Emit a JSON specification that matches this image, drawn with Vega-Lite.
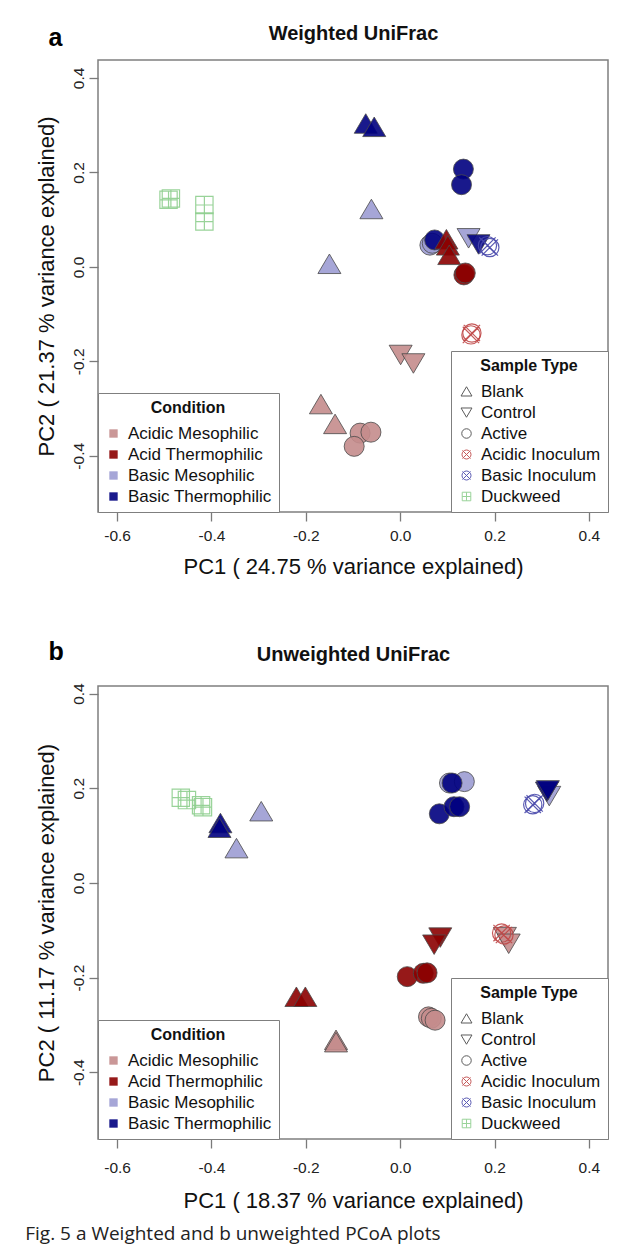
{
  "$schema": "https://vega.github.io/schema/vega-lite/v6.json",
  "padding": {"left": 25, "top": 22, "right": 4, "bottom": 4},
  "background": "white",
  "config": {
    "font": "Liberation Sans",
    "view": {"stroke": "#7f7f7f", "strokeWidth": 1.5},
    "axis": {"domain": false, "grid": false, "tickColor": "#7a7a7a", "tickSize": 9, "tickWidth": 1.3, "labelFont": "Liberation Sans", "labelFontSize": 15.5, "labelColor": "#222222", "titleFont": "Liberation Sans", "titleFontSize": 22, "titleFontWeight": "normal", "titleColor": "#111111"},
    "legend": {"labelFont": "Liberation Sans", "labelFontSize": 17, "labelColor": "#111111", "titleFont": "Liberation Sans", "titleFontSize": 16, "titleFontWeight": "bold", "titleColor": "#111111", "titleAnchor": "middle", "strokeColor": "#7f7f7f", "fillColor": "white", "padding": 7, "offset": 0, "rowPadding": 3, "titlePadding": 9, "labelOffset": 6},
    "title": {"font": "Liberation Sans", "color": "#111111"}
  },
  "title": {"text": "Fig. 5  a Weighted and b unweighted PCoA plots", "orient": "bottom", "anchor": "start", "frame": "bounds", "font": "Open Sans", "fontSize": 19, "fontWeight": "normal", "color": "#222222", "offset": 13, "dx": -9},
  "resolve": {"scale": {"x": "independent", "y": "independent", "fill": "independent", "shape": "independent", "stroke": "independent"}, "legend": {"fill": "independent", "shape": "independent", "stroke": "independent"}},
  "spacing": 59,
  "datasets": {
    "pa": [
      {"cond": "Basic Thermophilic", "type": "Blank", "pc1": -0.073, "pc2": 0.303},
      {"cond": "Basic Thermophilic", "type": "Blank", "pc1": -0.055, "pc2": 0.296},
      {"cond": "Basic Mesophilic", "type": "Blank", "pc1": -0.061, "pc2": 0.122},
      {"cond": "Basic Mesophilic", "type": "Blank", "pc1": -0.150, "pc2": 0.006},
      {"cond": "Acidic Mesophilic", "type": "Blank", "pc1": -0.168, "pc2": -0.291},
      {"cond": "Acidic Mesophilic", "type": "Blank", "pc1": -0.138, "pc2": -0.333},
      {"cond": "Acidic Mesophilic", "type": "Control", "pc1": 0.001, "pc2": -0.186},
      {"cond": "Acidic Mesophilic", "type": "Control", "pc1": 0.028, "pc2": -0.204},
      {"cond": "Acidic Mesophilic", "type": "Active", "pc1": -0.085, "pc2": -0.352},
      {"cond": "Acidic Mesophilic", "type": "Active", "pc1": -0.062, "pc2": -0.350},
      {"cond": "Acidic Mesophilic", "type": "Active", "pc1": -0.0975, "pc2": -0.380},
      {"cond": "Basic Thermophilic", "type": "Active", "pc1": 0.134, "pc2": 0.207},
      {"cond": "Basic Thermophilic", "type": "Active", "pc1": 0.130, "pc2": 0.174},
      {"cond": "Basic Mesophilic", "type": "Active", "pc1": 0.063, "pc2": 0.046},
      {"cond": "Basic Mesophilic", "type": "Active", "pc1": 0.068, "pc2": 0.050},
      {"cond": "Basic Thermophilic", "type": "Active", "pc1": 0.073, "pc2": 0.057},
      {"cond": "Acid Thermophilic", "type": "Active", "pc1": 0.135, "pc2": -0.017},
      {"cond": "Acid Thermophilic", "type": "Active", "pc1": 0.138, "pc2": -0.013},
      {"cond": "Acid Thermophilic", "type": "Blank", "pc1": 0.098, "pc2": 0.058},
      {"cond": "Acid Thermophilic", "type": "Blank", "pc1": 0.101, "pc2": 0.045},
      {"cond": "Acid Thermophilic", "type": "Blank", "pc1": 0.104, "pc2": 0.025},
      {"cond": "Basic Mesophilic", "type": "Control", "pc1": 0.145, "pc2": 0.061},
      {"cond": "Basic Thermophilic", "type": "Control", "pc1": 0.166, "pc2": 0.048},
      {"cond": null, "type": "Acidic Inoculum", "pc1": 0.150, "pc2": -0.144},
      {"cond": null, "type": "Acidic Inoculum", "pc1": 0.152, "pc2": -0.140},
      {"cond": null, "type": "Basic Inoculum", "pc1": 0.185, "pc2": 0.045},
      {"cond": null, "type": "Basic Inoculum", "pc1": 0.190, "pc2": 0.041},
      {"cond": null, "type": "Duckweed", "pc1": -0.491, "pc2": 0.142},
      {"cond": null, "type": "Duckweed", "pc1": -0.486, "pc2": 0.145},
      {"cond": null, "type": "Duckweed", "pc1": -0.415, "pc2": 0.131},
      {"cond": null, "type": "Duckweed", "pc1": -0.415, "pc2": 0.096}
    ],
    "pb": [
      {"cond": "Basic Thermophilic", "type": "Blank", "pc1": -0.381, "pc2": 0.126},
      {"cond": "Basic Thermophilic", "type": "Blank", "pc1": -0.383, "pc2": 0.116},
      {"cond": "Basic Mesophilic", "type": "Blank", "pc1": -0.2945, "pc2": 0.151},
      {"cond": "Basic Mesophilic", "type": "Blank", "pc1": -0.347, "pc2": 0.073},
      {"cond": "Acid Thermophilic", "type": "Blank", "pc1": -0.220, "pc2": -0.241},
      {"cond": "Acid Thermophilic", "type": "Blank", "pc1": -0.201, "pc2": -0.241},
      {"cond": "Acidic Mesophilic", "type": "Blank", "pc1": -0.136, "pc2": -0.332},
      {"cond": "Acidic Mesophilic", "type": "Blank", "pc1": -0.136, "pc2": -0.337},
      {"cond": "Basic Mesophilic", "type": "Control", "pc1": 0.316, "pc2": 0.184},
      {"cond": "Basic Thermophilic", "type": "Control", "pc1": 0.311, "pc2": 0.193},
      {"cond": "Basic Thermophilic", "type": "Control", "pc1": 0.313, "pc2": 0.196},
      {"cond": "Acid Thermophilic", "type": "Control", "pc1": 0.085, "pc2": -0.115},
      {"cond": "Acid Thermophilic", "type": "Control", "pc1": 0.072, "pc2": -0.130},
      {"cond": "Acidic Mesophilic", "type": "Control", "pc1": 0.222, "pc2": -0.114},
      {"cond": "Acidic Mesophilic", "type": "Control", "pc1": 0.230, "pc2": -0.128},
      {"cond": "Basic Mesophilic", "type": "Active", "pc1": 0.1045, "pc2": 0.211},
      {"cond": "Basic Mesophilic", "type": "Active", "pc1": 0.136, "pc2": 0.214},
      {"cond": "Basic Thermophilic", "type": "Active", "pc1": 0.110, "pc2": 0.211},
      {"cond": "Basic Thermophilic", "type": "Active", "pc1": 0.083, "pc2": 0.146},
      {"cond": "Basic Thermophilic", "type": "Active", "pc1": 0.114, "pc2": 0.161},
      {"cond": "Basic Thermophilic", "type": "Active", "pc1": 0.126, "pc2": 0.161},
      {"cond": "Acid Thermophilic", "type": "Active", "pc1": 0.015, "pc2": -0.198},
      {"cond": "Acid Thermophilic", "type": "Active", "pc1": 0.049, "pc2": -0.191},
      {"cond": "Acid Thermophilic", "type": "Active", "pc1": 0.057, "pc2": -0.190},
      {"cond": "Acidic Mesophilic", "type": "Active", "pc1": 0.060, "pc2": -0.283},
      {"cond": "Acidic Mesophilic", "type": "Active", "pc1": 0.066, "pc2": -0.286},
      {"cond": "Acidic Mesophilic", "type": "Active", "pc1": 0.074, "pc2": -0.290},
      {"cond": null, "type": "Acidic Inoculum", "pc1": 0.215, "pc2": -0.106},
      {"cond": null, "type": "Acidic Inoculum", "pc1": 0.220, "pc2": -0.110},
      {"cond": null, "type": "Basic Inoculum", "pc1": 0.281, "pc2": 0.165},
      {"cond": null, "type": "Basic Inoculum", "pc1": 0.285, "pc2": 0.168},
      {"cond": null, "type": "Duckweed", "pc1": -0.465, "pc2": 0.180},
      {"cond": null, "type": "Duckweed", "pc1": -0.452, "pc2": 0.175},
      {"cond": null, "type": "Duckweed", "pc1": -0.422, "pc2": 0.164},
      {"cond": null, "type": "Duckweed", "pc1": -0.418, "pc2": 0.160}
    ]
  },
  "vconcat": [
    {
      "width": 510,
      "height": 452,
      "data": {"name": "pa"},
      "resolve": {"axis": {"x": "independent", "y": "independent"}},
      "encoding": {
        "shape": {"field": "type", "type": "nominal", "scale": {"domain": ["Blank", "Control", "Active", "Acidic Inoculum", "Basic Inoculum", "Duckweed"], "range": ["M0,-1L1.15,0.95L-1.15,0.95Z", "M-1.15,-0.95L1.15,-0.95L0,1Z", "circle", "M-0.95,0A0.95,0.95,0,1,1,0.95,0A0.95,0.95,0,1,1,-0.95,0ZM-0.85,-0.85L0.85,0.85M-0.85,0.85L0.85,-0.85", "M-0.95,0A0.95,0.95,0,1,1,0.95,0A0.95,0.95,0,1,1,-0.95,0ZM-0.85,-0.85L0.85,0.85M-0.85,0.85L0.85,-0.85", "M-0.9,-0.9L0.9,-0.9L0.9,0.9L-0.9,0.9ZM0,-0.9L0,0.9M-0.9,0L0.9,0"]}, "legend": {"title": "Sample Type", "orient": "bottom-right", "symbolSize": 90, "symbolStrokeWidth": 1, "symbolFillColor": "transparent"}},
        "stroke": {"field": "type", "type": "nominal", "scale": {"domain": ["Blank", "Control", "Active", "Acidic Inoculum", "Basic Inoculum", "Duckweed"], "range": ["#4a4a4a", "#4a4a4a", "#4a4a4a", "#c04848", "#4a4aac", "#8fcf8f"]}, "legend": {"title": "Sample Type", "orient": "bottom-right", "symbolSize": 90, "symbolStrokeWidth": 1, "symbolFillColor": "transparent"}}
      },
      "layer": [
        {
          "transform": [{"filter": "indexof(['Blank','Control','Active'], datum.type) >= 0"}],
          "mark": {"type": "point", "filled": false, "size": 400, "strokeWidth": 1, "strokeOpacity": 0.8, "fillOpacity": 0.9},
          "encoding": {
            "x": {"field": "pc1", "type": "quantitative", "scale": {"domain": [-0.6405, 0.4405], "nice": false, "zero": false}, "axis": {"title": "PC1 ( 24.75 % variance explained)", "values": [-0.6, -0.4, -0.2, 0, 0.2, 0.4], "labelExpr": "replace(format(datum.value, '.1f'), '−', '-')", "labelPadding": 7, "titlePadding": 13}},
            "y": {"field": "pc2", "type": "quantitative", "scale": {"domain": [-0.519, 0.438], "nice": false, "zero": false}, "axis": {"title": "PC2 ( 21.37 % variance explained)", "values": [-0.4, -0.2, 0, 0.2, 0.4], "labelExpr": "replace(format(datum.value, '.1f'), '−', '-')", "labelAngle": 270, "labelPadding": 3, "titlePadding": 13}},
            "fill": {"field": "cond", "type": "nominal", "scale": {"domain": ["Acidic Mesophilic", "Acid Thermophilic", "Basic Mesophilic", "Basic Thermophilic"], "range": ["#c48c8c", "#8b0000", "#9c9cd3", "#000080"]}, "legend": {"title": "Condition", "orient": "bottom-left", "symbolType": "square", "symbolSize": 70, "symbolStrokeWidth": 0, "symbolOpacity": 0.9}}
          }
        },
        {
          "transform": [{"filter": "indexof(['Blank','Control','Active'], datum.type) < 0"}],
          "mark": {"type": "point", "filled": false, "size": 370, "strokeWidth": 1.2, "opacity": 0.9},
          "encoding": {
            "x": {"field": "pc1", "type": "quantitative", "scale": {"domain": [-0.6405, 0.4405], "nice": false, "zero": false}, "axis": {"orient": "top", "labels": false, "ticks": false, "domain": false, "title": "Weighted UniFrac", "titleFontSize": 20, "titleFontWeight": "bold", "titlePadding": 17}},
            "y": {"field": "pc2", "type": "quantitative", "scale": {"domain": [-0.519, 0.438], "nice": false, "zero": false}, "axis": {"orient": "right", "labels": false, "ticks": false, "domain": false, "title": "a", "titleAngle": 0, "titleAlign": "left", "titleBaseline": "alphabetic", "titleX": -560, "titleY": -15, "titleFontSize": 25, "titleFontWeight": "bold", "titleColor": "#000000"}}
          }
        }
      ]
    },
    {
      "width": 510,
      "height": 453,
      "data": {"name": "pb"},
      "resolve": {"axis": {"x": "independent", "y": "independent"}},
      "encoding": {
        "shape": {"field": "type", "type": "nominal", "scale": {"domain": ["Blank", "Control", "Active", "Acidic Inoculum", "Basic Inoculum", "Duckweed"], "range": ["M0,-1L1.15,0.95L-1.15,0.95Z", "M-1.15,-0.95L1.15,-0.95L0,1Z", "circle", "M-0.95,0A0.95,0.95,0,1,1,0.95,0A0.95,0.95,0,1,1,-0.95,0ZM-0.85,-0.85L0.85,0.85M-0.85,0.85L0.85,-0.85", "M-0.95,0A0.95,0.95,0,1,1,0.95,0A0.95,0.95,0,1,1,-0.95,0ZM-0.85,-0.85L0.85,0.85M-0.85,0.85L0.85,-0.85", "M-0.9,-0.9L0.9,-0.9L0.9,0.9L-0.9,0.9ZM0,-0.9L0,0.9M-0.9,0L0.9,0"]}, "legend": {"title": "Sample Type", "orient": "bottom-right", "symbolSize": 90, "symbolStrokeWidth": 1, "symbolFillColor": "transparent"}},
        "stroke": {"field": "type", "type": "nominal", "scale": {"domain": ["Blank", "Control", "Active", "Acidic Inoculum", "Basic Inoculum", "Duckweed"], "range": ["#4a4a4a", "#4a4a4a", "#4a4a4a", "#c04848", "#4a4aac", "#8fcf8f"]}, "legend": {"title": "Sample Type", "orient": "bottom-right", "symbolSize": 90, "symbolStrokeWidth": 1, "symbolFillColor": "transparent"}}
      },
      "layer": [
        {
          "transform": [{"filter": "indexof(['Blank','Control','Active'], datum.type) >= 0"}],
          "mark": {"type": "point", "filled": false, "size": 400, "strokeWidth": 1, "strokeOpacity": 0.8, "fillOpacity": 0.9},
          "encoding": {
            "x": {"field": "pc1", "type": "quantitative", "scale": {"domain": [-0.6405, 0.4405], "nice": false, "zero": false}, "axis": {"title": "PC1 ( 18.37 % variance explained)", "values": [-0.6, -0.4, -0.2, 0, 0.2, 0.4], "labelExpr": "replace(format(datum.value, '.1f'), '−', '-')", "labelPadding": 12, "titlePadding": 15}},
            "y": {"field": "pc2", "type": "quantitative", "scale": {"domain": [-0.541, 0.416], "nice": false, "zero": false}, "axis": {"title": "PC2 ( 11.17 % variance explained)", "values": [-0.4, -0.2, 0, 0.2, 0.4], "labelExpr": "replace(format(datum.value, '.1f'), '−', '-')", "labelAngle": 270, "labelPadding": 3, "titlePadding": 13}},
            "fill": {"field": "cond", "type": "nominal", "scale": {"domain": ["Acidic Mesophilic", "Acid Thermophilic", "Basic Mesophilic", "Basic Thermophilic"], "range": ["#c48c8c", "#8b0000", "#9c9cd3", "#000080"]}, "legend": {"title": "Condition", "orient": "bottom-left", "symbolType": "square", "symbolSize": 70, "symbolStrokeWidth": 0, "symbolOpacity": 0.9}}
          }
        },
        {
          "transform": [{"filter": "indexof(['Blank','Control','Active'], datum.type) < 0"}],
          "mark": {"type": "point", "filled": false, "size": 370, "strokeWidth": 1.2, "opacity": 0.9},
          "encoding": {
            "x": {"field": "pc1", "type": "quantitative", "scale": {"domain": [-0.6405, 0.4405], "nice": false, "zero": false}, "axis": {"orient": "top", "labels": false, "ticks": false, "domain": false, "title": "Unweighted UniFrac", "titleFontSize": 20, "titleFontWeight": "bold", "titlePadding": 22}},
            "y": {"field": "pc2", "type": "quantitative", "scale": {"domain": [-0.541, 0.416], "nice": false, "zero": false}, "axis": {"orient": "right", "labels": false, "ticks": false, "domain": false, "title": "b", "titleAngle": 0, "titleAlign": "left", "titleBaseline": "alphabetic", "titleX": -560, "titleY": -27, "titleFontSize": 25, "titleFontWeight": "bold", "titleColor": "#000000"}}
          }
        }
      ]
    }
  ]
}
